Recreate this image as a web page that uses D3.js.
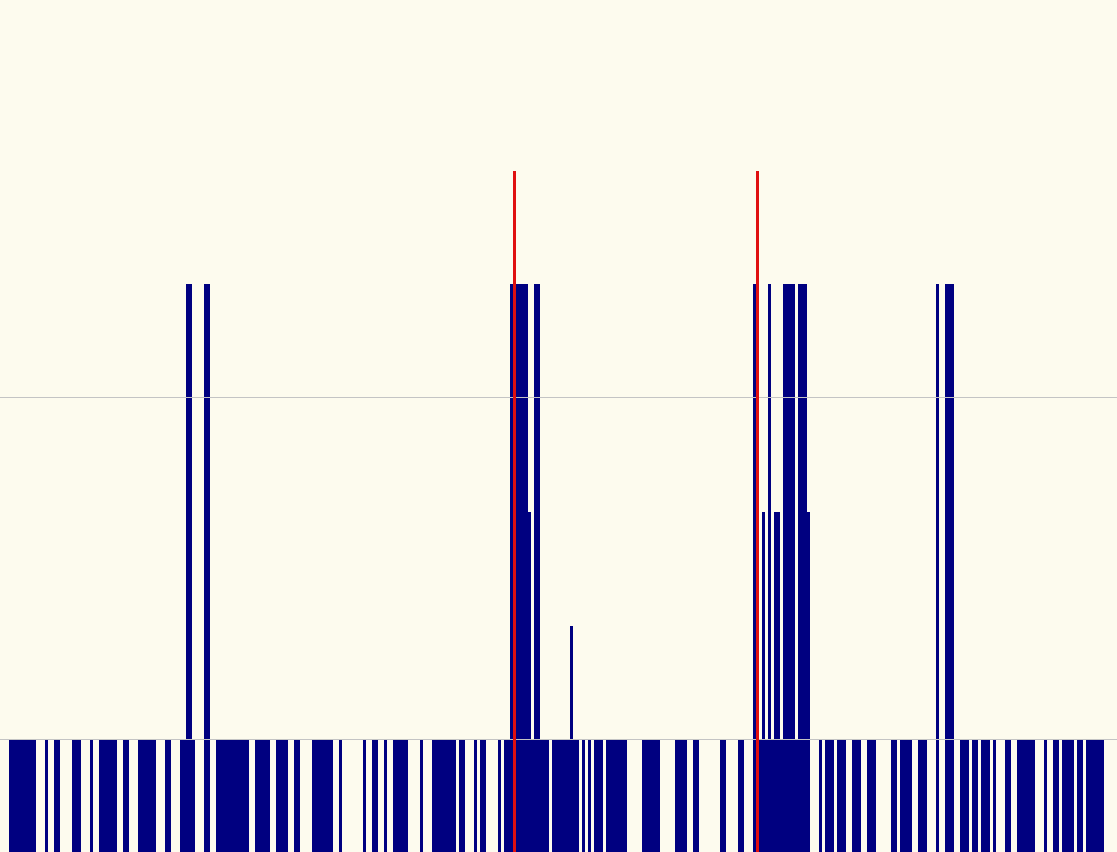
<!DOCTYPE html>
<html>
<head>
<meta charset="utf-8">
<script src="https://cdn.jsdelivr.net/npm/d3@7"></script>
<style>
  html, body { margin: 0; padding: 0; background: #fdfbee; }
  svg { display: block; }
</style>
</head>
<body>
<svg id="chart" width="1117" height="852"></svg>
<script>
// Daily counts, one value per day (365 days)
const counts = [
  1,1,1,1,1,1,1,1,1,0, 0,0,1,0,0,1,1,0,0,0,
  0,1,1,1,0,0,0,1,0,0, 1,1,1,1,1,1,0,0,1,1,
  0,0,0,1,1,1,1,1,1,0, 0,0,1,1,0,0,0,1,1,5,
  5,1,0,0,0,5,5,0,0,1, 1,1,1,1,1,1,1,1,1,1,
  0,0,1,1,1,1,1,0,0,1, 1,1,1,0,0,1,1,0,0,0,
  0,1,1,1,1,1,1,1,0,0, 1,0,0,0,0,0,0,0,1,0,
  0,1,1,0,0,1,0,0,1,1, 1,1,1,0,0,0,0,1,0,0,
  0,1,1,1,1,1,1,1,1,0, 1,1,0,0,0,1,0,1,1,0,
  0,0,0,1,0,1,1,5,5,5, 5,5,5,3,1,5,5,1,1,1,
  0,1,1,1,1,1,1,2,1,1, 0,1,0,1,0,1,1,1,0,1,
  1,1,1,1,1,1,0,0,0,0, 0,1,1,1,1,1,1,0,0,0,
  0,0,1,1,1,1,0,0,1,1, 0,0,0,0,0,0,0,1,1,0,
  0,0,0,1,1,0,0,0,5,5, 1,3,1,5,1,3,3,1,5,5,
  5,5,1,5,5,5,3,0,0,0, 1,0,1,1,1,0,1,1,1,0,
  0,1,1,1,0,0,1,1,1,0, 0,0,0,0,1,1,0,1,1,1,
  1,0,0,1,1,1,0,0,0,5, 0,0,5,5,5,0,0,1,1,1,
  0,1,1,0,1,1,1,0,1,0, 0,0,1,1,0,0,1,1,1,1,
  1,1,0,0,0,1,0,0,1,1, 0,1,1,1,1,0,1,1,0,1,
  1,1,1,1,1
];
const days = d3.range(counts.length);
// Marker days (red vertical lines) and their height
const markerDays = [168, 249];
const markerValue = 6;
// Horizontal reference lines
const gridValues = [1, 4];

const W = 1117, H = 852;
const svg = d3.select("#chart");

svg.append("rect").attr("width", W).attr("height", H).attr("fill", "#fdfbee");

const x = d3.scaleBand().domain(days).range([9, 1104]).padding(0);
const y = d3.scaleLinear().domain([0, 7.5]).range([854, -1]);

svg.append("g")
  .selectAll("rect")
  .data(days.filter(d => counts[d] > 0))
  .join("rect")
  .attr("x", d => x(d))
  .attr("width", x.bandwidth())
  .attr("y", d => y(counts[d]))
  .attr("height", d => y(0) - y(counts[d]))
  .attr("fill", "#000080")
  .attr("shape-rendering", "crispEdges");

svg.append("g")
  .selectAll("line")
  .data(gridValues)
  .join("line")
  .attr("x1", 0).attr("x2", W)
  .attr("y1", d => y(d) - 0.5).attr("y2", d => y(d) - 0.5)
  .attr("stroke", "#c4c4c4")
  .attr("stroke-width", 1);

svg.append("g")
  .selectAll("rect")
  .data(markerDays)
  .join("rect")
  .attr("x", d => x(d))
  .attr("width", x.bandwidth())
  .attr("y", y(markerValue) + 1)
  .attr("height", H - y(markerValue))
  .attr("fill", "#e01010")
  .attr("shape-rendering", "crispEdges");
</script>
</body>
</html>
